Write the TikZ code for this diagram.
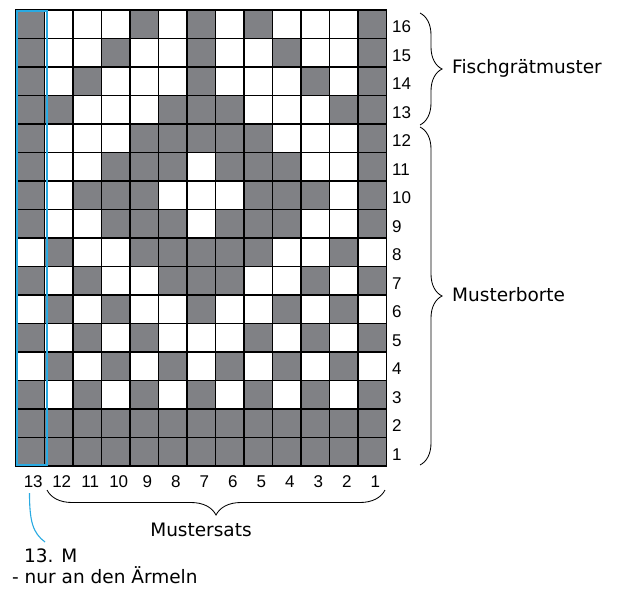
\documentclass[tikz,border=0pt]{standalone}
\usepackage{fontspec}
\setmainfont{Liberation Sans}
\newfontfamily\vfont{DejaVu Sans}
\usetikzlibrary{decorations.pathreplacing}
\definecolor{cellgray}{RGB}{128,129,133}
\definecolor{markblue}{RGB}{41,170,226}
\begin{document}
\begin{tikzpicture}[x=1pt,y=-1pt,
  numlab/.style={inner sep=0pt, font=\fontsize{17}{20}\selectfont},
  vlab/.style={inner sep=0pt, font=\vfont\fontsize{18.5}{22}\selectfont},
  gridline/.style={line width=1.3pt, black},
  bracestyle/.style={decorate, decoration={brace, amplitude=#1}, line width=0.85pt, black},
]
\useasboundingbox[fill=white] (0,0) rectangle (617,588);
% cells (top row = row 16, left column = stitch 13)
\foreach \rowpat [count=\r] in {
  {1,0,0,0,1,0,1,0,1,0,0,0,1},
  {1,0,0,1,0,0,1,0,0,1,0,0,1},
  {1,0,1,0,0,0,1,0,0,0,1,0,1},
  {1,1,0,0,0,1,1,1,0,0,0,1,1},
  {1,0,0,0,1,1,1,1,1,0,0,0,1},
  {1,0,0,1,1,1,0,1,1,1,0,0,1},
  {1,0,1,1,1,0,0,0,1,1,1,0,1},
  {1,0,0,1,1,1,0,1,1,1,0,0,1},
  {0,1,0,0,1,1,1,1,1,0,0,1,0},
  {1,0,1,0,0,1,1,1,0,0,1,0,1},
  {0,1,0,1,0,0,1,0,0,1,0,1,0},
  {1,0,1,0,1,0,0,0,1,0,1,0,1},
  {0,1,0,1,0,1,0,1,0,1,0,1,0},
  {1,0,1,0,1,0,1,0,1,0,1,0,1},
  {1,1,1,1,1,1,1,1,1,1,1,1,1},
  {1,1,1,1,1,1,1,1,1,1,1,1,1}} {
  \foreach \v [count=\c] in \rowpat {
    \ifnum\v=1
      \fill[cellgray] ({16+(\c-1)*28.5},{10+(\r-1)*28.5}) rectangle ++(28.5,28.5);
    \fi
  }
}
% grid lines
\foreach \i in {1,...,12} \draw[gridline] ({16+\i*28.5},10) -- ({16+\i*28.5},466);
\foreach \j in {1,...,15} \draw[gridline] (16,{10+\j*28.5}) -- (386.5,{10+\j*28.5});
\draw[line width=1.8pt] (16,10) rectangle (386.5,466);
% blue marker around stitch 13
\draw[markblue, line width=2pt] (17,11) rectangle (46.5,465);
% row numbers
\foreach \n in {1,...,16}
  \node[numlab, anchor=west] (r\n) at (392,{466-(\n-0.5)*28.5+2.5}) {\n};
% column numbers
\foreach \k in {1,...,13} {
  \pgfmathtruncatemacro\lab{14-\k}
  \node[numlab] (c\lab) at ({16+28.5*(\k-0.5)+3},481.5) {\lab};
}
% braces
\coordinate (b1s) at (420,13);
\coordinate (b1e) at (420,125);
\coordinate (b2s) at (420,127);
\coordinate (b2e) at (420,465);
\coordinate (b3s) at (385,490);
\coordinate (b3e) at (47,490);
\draw[bracestyle=22] (b1s) -- (b1e);
\draw[bracestyle=22] (b2s) -- (b2e);
\draw[bracestyle=25] (b3s) -- (b3e);
% labels
\node[vlab, anchor=base west] (fisch) at (452,74) {Fischgrätmuster};
\node[vlab, anchor=base west] (borte) at (452,301) {Musterborte};
\node[vlab, anchor=base] (satz) at (201,536) {Mustersats};
\node[vlab, anchor=base west] (m13) at (24,562) {13. M};
\node[vlab, anchor=base west] (note) at (12,583) {- nur an den Ärmeln};
% blue connector
\coordinate (cs) at (29.5,493);
\coordinate (ce) at (45,542);
\draw[markblue, line width=1.1pt] (cs) .. controls (29.5,522) and (33,533) .. (ce);
\end{tikzpicture}
\end{document}
